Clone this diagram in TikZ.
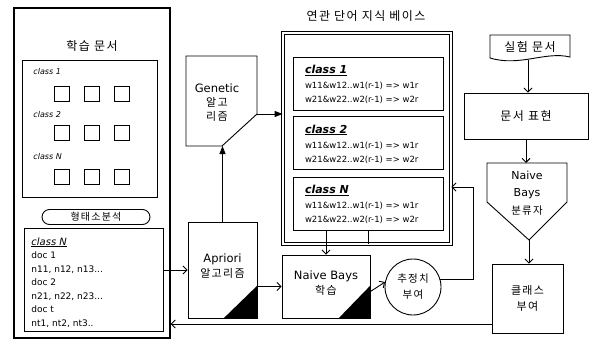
\documentclass[tikz,border=0pt]{standalone}
\usepackage{fontspec}
\setmainfont{DejaVu Sans}
\newfontfamily\kr[LetterSpace=12]{Noto Sans CJK KR}
\usetikzlibrary{arrows.meta}

\begin{document}
\begin{tikzpicture}[x=1pt, y=-1pt, line width=0.9pt,
    >={Straight Barb[length=4pt,width=8pt]},
    fillarrow/.style={-{Triangle[length=8pt,width=6pt]}},
    boxed/.style={draw, inner sep=0pt},
    ko/.style={font=\kr\fontsize{11}{15}\selectfont, align=center},
    kotitle/.style={font=\kr\fontsize{12}{14}\selectfont},
    en/.style={font=\fontsize{11.5}{15}\selectfont, align=center},
    small/.style={font=\fontsize{9}{10}\selectfont, inner sep=0pt, anchor=base west},
    rule/.style={font=\fontsize{8.5}{10}\selectfont, inner sep=0pt, anchor=base west}]
  \useasboundingbox (0,0) rectangle (594,342);

  % training documents
  \node[boxed, line width=1.4pt, minimum width=156pt, minimum height=330pt] (train) at (92,173) {};
  \node[kotitle] (train-title) at (92,46) {학습 문서};
  \node[boxed, minimum width=135pt, minimum height=137pt] (classes) at (89.5,128.5) {};
  \foreach \c/\y/\r in {1/72/94, 2/115/133, N/157/177} {
    \node[anchor=west, font=\itshape\fontsize{8}{9}\selectfont, inner sep=0pt] (lab-\c) at (33,\y) {class \c};
    \foreach \x in {62,92,122}
      \draw (\x-7.5,\r-7.5) rectangle ++(15,15);
  }
  \node[draw, rounded corners=7.5pt, minimum width=108pt, minimum height=15pt, inner sep=0pt,
        font=\kr\fontsize{10}{11}\selectfont] (morph) at (96,217) {형태소분석};
  \node[boxed, minimum width=139pt, minimum height=103pt] (docs) at (93.5,279.5) {};
  \node[small, font=\itshape\fontsize{10}{11}\selectfont] (docs-head) at (31,245) {\underline{class N}};
  \node[small] (doc-1) at (31,258.5) {doc 1};
  \node[small] (doc-2) at (31,272) {n11, n12, n13...};
  \node[small] (doc-3) at (31,285.5) {doc 2};
  \node[small] (doc-4) at (31,299) {n21, n22, n23...};
  \node[small] (doc-5) at (31,312.5) {doc t};
  \node[small] (doc-6) at (31,326) {nt1, nt2, nt3..};

  % genetic algorithm
  \coordinate (g1) at (186,56); \coordinate (g2) at (257,56); \coordinate (g3) at (257,114);
  \coordinate (g4) at (222,146); \coordinate (g5) at (186,146);
  \draw (g1) -- (g2) -- (g3) -- (g4) -- (g5) -- cycle;
  \node[en, font=\fontsize{11.5}{14}\selectfont] (gen) at (217,103) {Genetic\\{\kr\fontsize{11}{14}\selectfont 알고}\\{\kr\fontsize{11}{14}\selectfont 리즘}};

  % apriori
  \node[boxed, minimum width=69pt, minimum height=96pt] (apriori) at (222.5,270) {};
  \node[en] (apriori-txt) at (222.5,266) {Apriori\\{\kr\fontsize{11}{15}\selectfont 알고리즘}};
  \fill (apriori.south east) -- ([xshift=-34pt]apriori.south east) -- ([yshift=33pt]apriori.south east) -- cycle;

  % knowledge base
  \node[kotitle] (kb-title) at (366,16) {연관 단어 지식 베이스};
  \node[draw, double, double distance=2pt, minimum width=168pt, minimum height=211pt] (kb) at (367,138.5) {};
  \foreach \c/\y in {1/83.5, 2/143, N/203.5} {
    \node[boxed, minimum width=150pt, minimum height=53pt] (cls-\c) at (368,\y) {};
    \node[rule, font=\bfseries\itshape\fontsize{11}{12}\selectfont] (cls-\c-head) at ([xshift=12pt,yshift=-17pt]cls-\c.north west) {\underline{class \c}};
    \node[rule] (cls-\c-a) at ([xshift=12pt,yshift=-32pt]cls-\c.north west) {w11\&w12..w1(r-1) => w1r};
    \node[rule] (cls-\c-b) at ([xshift=12pt,yshift=-46pt]cls-\c.north west) {w21\&w22..w2(r-1) => w2r};
  }

  % naive bayes learning and estimates
  \node[boxed, minimum width=88pt, minimum height=63pt] (nb) at (326,286.5) {};
  \node[en] (nb-txt) at (326,283) {Naive Bays\\{\kr\fontsize{11}{15}\selectfont 학습}};
  \fill (nb.south east) -- ([xshift=-32pt]nb.south east) -- ([yshift=33pt]nb.south east) -- cycle;
  \node[draw, circle, minimum size=56pt, inner sep=0pt, ko, font=\kr\fontsize{10.5}{16}\selectfont] (est) at (413,287) {추정치\\부여};
  \coordinate (fb) at (473,187);

  % test side
  \node[kotitle] (test) at (530,47) {실험 문서};
  \draw (490,35) -- (570,35) -- (570,57) .. controls (545,51) and (520,67) .. (490,58) -- cycle;
  \coordinate (test-b) at (528,60);
  \node[boxed, minimum width=124pt, minimum height=46pt, kotitle] (rep) at (526,116) {문서 표현};
  \coordinate (p1) at (487,163); \coordinate (p2) at (567,163); \coordinate (p3) at (567,202);
  \coordinate (p4) at (529,240); \coordinate (p5) at (487,202);
  \draw (p1) -- (p2) -- (p3) -- (p4) -- (p5) -- cycle;
  \node[en, font=\fontsize{11}{17.5}\selectfont] (nbc) at (527,193) {Naive\\Bays\\{\kr\fontsize{10.5}{17.5}\selectfont 분류자}};
  \node[boxed, minimum width=71pt, minimum height=69pt, ko, font=\kr\fontsize{11}{15.5}\selectfont] (assign) at (527.5,298.5) {클래스\\부여};

  % connectors
  \draw[->] (docs.east |- apriori.west) -- (apriori.west);
  \draw[fillarrow] (apriori.north) -- (g4 -| apriori.north);
  \draw[fillarrow] (g3) -- (kb.west |- g3);
  \draw[->] (apriori.east |- nb.west) -- (nb.west);
  \draw[->] (cls-N.south -| nb.north) -- (nb.north);
  \draw (cls-N.south) -- (cls-N.south |- kb.south);
  \draw[->] ([yshift=-5pt]nb.east) -- (est.170);
  \draw[->] (est.15) -| (fb) -- (fb -| kb.east);
  \draw[->] (test-b) -- (test-b |- rep.north);
  \draw[->] (rep.south) -- (p1 -| rep.south);
  \draw[->] (p4) -- (p4 |- assign.north);
  \draw[->] ([yshift=-25.5pt]assign.west) -- ([yshift=-25.5pt]assign.west -| train.east);
\end{tikzpicture}
\end{document}
